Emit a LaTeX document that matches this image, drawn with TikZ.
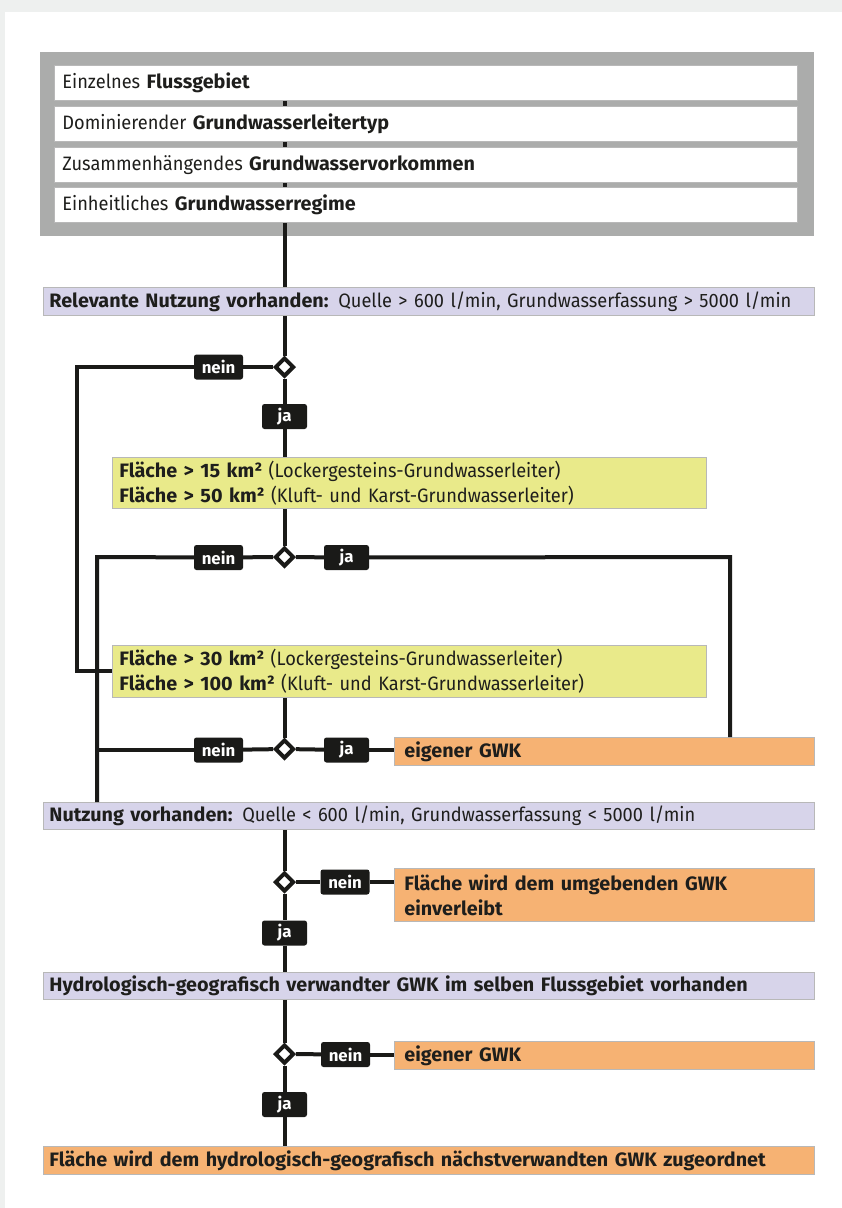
\documentclass[tikz,border=0pt]{standalone}
\usepackage{fontspec}
\setmainfont{Fira Sans}[UprightFeatures={FakeStretch=0.94}, BoldFeatures={FakeStretch=1.02}]
\usepackage{xcolor}
\usepackage{tikz}
\usetikzlibrary{shapes.geometric}

\definecolor{seitengrau}{HTML}{EEF0EF}
\definecolor{rahmengrau}{HTML}{ABACAB}
\definecolor{lila}{HTML}{D7D4EA}
\definecolor{gelb}{HTML}{E9EA8A}
\definecolor{gwkorange}{HTML}{F6B273}
\definecolor{linie}{HTML}{1A1A18}
\definecolor{schrift}{HTML}{1E1E1C}

\tikzset{
  kasten/.style={anchor=north west, inner ysep=0pt, align=left, text=schrift,
    font=\fontsize{19.4}{25}\selectfont, draw=black!28, line width=0.8pt},
  zeile/.style={kasten, fill=white, inner xsep=8pt, text width=727pt, minimum height=35pt},
  frage/.style={kasten, fill=lila, inner xsep=6pt, text width=759pt, minimum height=28pt},
  bedingung/.style={kasten, fill=gelb, inner xsep=7pt, text width=580pt, minimum height=51pt},
  ergebnis/.style={kasten, fill=gwkorange, inner xsep=10pt, text width=400pt, minimum height=28pt},
  raute/.style={diamond, draw=linie, fill=white, line width=4pt, inner sep=0pt, minimum size=19pt},
  marke/.style={fill=linie, rounded corners=2.5pt, text=white, inner sep=0pt,
    minimum height=25pt, font=\fontsize{16.5}{16.5}\selectfont\bfseries},
  neinmarke/.style={marke, minimum width=49pt},
  jamarke/.style={marke, minimum width=45pt},
  verbindung/.style={draw=linie, line width=4pt}
}

\begin{document}
\begin{tikzpicture}[x=1pt,y=-1pt]
\useasboundingbox (0,0) rectangle (842,1208);
\fill[seitengrau] (0,0) rectangle (842,1208);
\fill[white] (5,12) rectangle (842,1208);

%Gray frame with the four criteria
\node[anchor=north west, fill=rahmengrau, inner sep=0pt, minimum width=774pt, minimum height=184pt] (rahmen) at (40,52) {};
\node[zeile] (z1) at (54,65) {Einzelnes \textbf{Flussgebiet}};
\node[zeile] (z2) at (54,106) {Dominierender \textbf{Grundwasserleitertyp}};
\node[zeile] (z3) at (54,147) {Zusammenhängendes \textbf{Grundwasservorkommen}};
\node[zeile] (z4) at (54,187) {Einheitliches \textbf{Grundwasserregime}};

%Questions
\node[frage] (f1) at (43,287) {\textbf{Relevante Nutzung vorhanden:} Quelle > 600 l/min, Grundwasserfassung > 5000 l/min};
\node[frage, minimum height=27pt] (f2) at (43,802) {\textbf{Nutzung vorhanden:} Quelle < 600 l/min, Grundwasserfassung < 5000 l/min};
\node[frage, minimum height=27pt] (f3) at (43,972) {\textbf{Hydrologisch-geografisch verwandter GWK im selben Flussgebiet vorhanden}};

%Area conditions
\node[bedingung] (g1) at (112,457) {\textbf{Fläche > 15 km²} (Lockergesteins-Grundwasserleiter)\\\textbf{Fläche > 50 km²} (Kluft- und Karst-Grundwasserleiter)};
\node[bedingung, minimum height=52pt] (g2) at (112,645) {\textbf{Fläche > 30 km²} (Lockergesteins-Grundwasserleiter)\\\textbf{Fläche > 100 km²} (Kluft- und Karst-Grundwasserleiter)};

%Results
\node[ergebnis] (o1) at (394,737) {\textbf{eigener GWK}};
\node[ergebnis, minimum height=53pt] (o2) at (394,868) {\textbf{Fläche wird dem umgebenden GWK}\\\textbf{einverleibt}};
\node[ergebnis] (o3) at (394,1041) {\textbf{eigener GWK}};
\node[ergebnis, inner xsep=6pt, text width=759pt] (o4) at (43,1146) {\textbf{Fläche wird dem hydrologisch-geografisch nächstverwandten GWK zugeordnet}};

%Decisions
\node[raute] (d1) at (284.5,367) {};
\node[raute] (d2) at (284.5,557) {};
\node[raute] (d3) at (284.5,749) {};
\node[raute] (d4) at (284.5,882) {};
\node[raute] (d5) at (284.5,1054) {};

\node[neinmarke] (n1) at (218.5,367) {nein};
\node[jamarke] (j1) at (284.5,416.5) {ja};
\node[neinmarke] (n2) at (218.5,557.5) {nein};
\node[jamarke] (j2) at (346.5,557.5) {ja};
\node[neinmarke] (n3) at (218.5,750) {nein};
\node[jamarke] (j3) at (346.5,750) {ja};
\node[neinmarke] (n4) at (345,882) {nein};
\node[jamarke] (j4) at (284.5,933) {ja};
\node[neinmarke] (n5) at (345.5,1054.5) {nein};
\node[jamarke] (j5) at (284.5,1104.5) {ja};

\coordinate (l1) at (77,367);
\coordinate (l2) at (97,557);
\coordinate (r2) at (730,557);

%Connectors
\draw[verbindung] (z1.south -| d1) -- (z2.north -| d1);
\draw[verbindung] (z2.south -| d1) -- (z3.north -| d1);
\draw[verbindung] (z3.south -| d1) -- (z4.north -| d1);
\draw[verbindung] (z4.south -| d1) -- (f1.north -| d1);
\draw[verbindung] (f1.south -| d1) -- (d1);
\draw[verbindung] (d1) -- (n1);
\draw[verbindung] (n1) -- (l1) |- (g2);
\draw[verbindung] (d1) -- (j1);
\draw[verbindung] (j1) -- (g1.north -| j1);
\draw[verbindung] (g1.south -| d2) -- (d2);
\draw[verbindung] (d2) -- (n2);
\draw[verbindung] (n2) -- (l2) -- (l2 |- f2.north);
\draw[verbindung] (d2) -- (j2);
\draw[verbindung] (j2) -- (r2) -- (r2 |- o1.north);
\draw[verbindung] (g2.south -| d3) -- (d3);
\draw[verbindung] (d3) -- (n3);
\draw[verbindung] (n3) -- (n3 -| l2);
\draw[verbindung] (d3) -- (j3);
\draw[verbindung] (j3) -- (j3 -| o1.west);
\draw[verbindung] (f2.south -| d4) -- (d4);
\draw[verbindung] (d4) -- (n4);
\draw[verbindung] (n4) -- (n4 -| o2.west);
\draw[verbindung] (d4) -- (j4);
\draw[verbindung] (j4) -- (f3.north -| j4);
\draw[verbindung] (f3.south -| d5) -- (d5);
\draw[verbindung] (d5) -- (n5);
\draw[verbindung] (n5) -- (n5 -| o3.west);
\draw[verbindung] (d5) -- (j5);
\draw[verbindung] (j5) -- (o4.north -| j5);

\end{tikzpicture}
\end{document}
